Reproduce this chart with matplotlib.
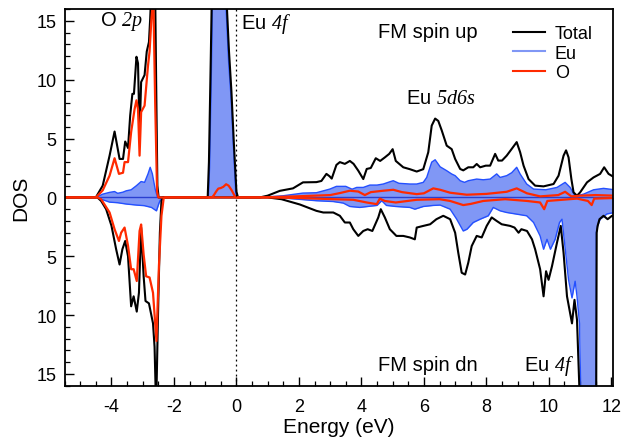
import matplotlib
matplotlib.use("Agg")
import matplotlib.pyplot as plt
from matplotlib.ticker import MultipleLocator, FuncFormatter
import numpy as np

plt.rcParams['font.family'] = ['Liberation Sans', 'DejaVu Sans']
plt.rcParams['axes.unicode_minus'] = False
# italic serif for the orbital names (2p, 4f, 5d6s)
plt.rcParams['mathtext.fontset'] = 'custom'
plt.rcParams['mathtext.it'] = 'Liberation Serif:italic'
plt.rcParams['mathtext.rm'] = 'Liberation Serif:italic'

# ---- data (energy in eV, DOS in states/eV) ----
# spin up
tot_up_e = [-5.5, -4.5, -4.28, -4.06, -3.9, -3.74, -3.63, -3.56, -3.47, -3.4, -3.33, -3.28, -3.2, -3.15, -3.1,
            -3.05, -2.94, -2.87, -2.8, -2.76, -2.7, -2.62, -2.57, -2.53, -2.49,
            -0.92, -0.88, -0.82, -0.77, -0.7, -0.55, -0.4, -0.32, -0.24, -0.16, -0.08, 0.0, 0.05,
            0.75, 1.0, 1.39, 1.81, 2.13, 2.56, 2.72, 2.88, 2.98, 3.05, 3.2, 3.31, 3.47, 3.63, 3.75, 3.9,
            4.06, 4.17, 4.3, 4.46, 4.6, 4.75, 4.89, 5.0, 5.1, 5.34, 5.55, 5.77, 5.98, 6.14, 6.25, 6.36,
            6.46, 6.57, 6.73, 6.89, 7.0, 7.16, 7.26, 7.42, 7.58, 7.69, 7.8, 7.98, 8.12, 8.28, 8.38, 8.5,
            8.65, 8.81, 8.97, 9.08, 9.19, 9.35, 9.56, 9.83, 10.15, 10.31, 10.47, 10.55, 10.63, 10.72,
            10.79, 10.9, 11.0, 11.22, 11.43, 11.64, 11.77, 11.91, 12.1]
tot_up = [0, 0, 1.0, 3.55, 5.6, 3.27, 3.27, 4.75, 4.2, 6.97, 8.8, 8.8, 11.95, 11.4, 5.3,
          9.8, 10.4, 12.4, 13.2, 15.2, 19, 22, 10, 1.0, 0,
          0, 3, 12, 20, 35, 45, 35, 17, 12.5, 9, 4.5, 0.5, 0,
          0, 0.15, 0.56, 0.77, 1.28, 1.3, 1.4, 2.0, 1.8, 1.6, 2.76, 3.0, 2.85, 3.1, 2.85, 2.27,
          1.56, 2.42, 2.5, 3.33, 3.1, 3.4, 3.7, 4.1, 3.1, 2.56, 2.4, 2.2, 2.4, 3.84, 6.1, 6.7,
          6.5, 5.7, 4.4, 4.1, 3.27, 2.42, 2.3, 2.56, 2.56, 2.84, 2.56, 2.7, 2.7, 3.7, 3.13, 3.13,
          3.55, 4.12, 4.7, 3.84, 2.7, 1.56, 1.0, 0.94, 1.14, 1.85, 3.55, 4.0, 3.4, 1.56,
          0.43, 0.14, 0.43, 1.28, 1.7, 2.0, 2.56, 2.0, 1.7]

eu_up_e = [-5.5, -4.5, -4.28, -4.06, -3.9, -3.8, -3.63, -3.53, -3.37, -3.2, -3.05, -2.94, -2.83, -2.76,
           -2.69, -2.6, -2.53, -2.5,
           -0.9, -0.86, -0.8, -0.75, -0.7, -0.55, -0.4, -0.33, -0.25, -0.17, -0.09, -0.02, 0.02,
           0.75, 1.49, 2.13, 2.56, 2.99, 3.2, 3.5, 3.7, 3.85, 4.06, 4.27, 4.5, 4.7, 4.91, 5.02, 5.2,
           5.55, 5.77, 5.98, 6.09, 6.25, 6.36, 6.52, 6.73, 6.89, 7.0, 7.16, 7.3, 7.42, 7.69, 7.9,
           8.12, 8.33, 8.44, 8.65, 8.81, 8.97, 9.08, 9.29, 9.51, 9.9, 10.26, 10.52, 10.68, 10.84,
           11.11, 11.43, 11.75, 12.1]
eu_up = [0, 0, 0.28, 0.43, 0.5, 0.35, 0.45, 0.56, 0.65, 1.0, 1.35, 1.28, 2.0, 2.56,
         2.0, 0.7, 0.05, 0,
         0, 2.5, 11, 20, 35, 45, 35, 16, 11.5, 8.4, 4, 0.3, 0,
         0, 0.14, 0.37, 0.4, 0.71, 0.94, 0.94, 0.7, 0.85, 0.85, 1.05, 1.05, 1.14, 1.33, 1.42, 1.2,
         1.14, 1.14, 1.28, 1.7, 3.0, 3.2, 2.6, 2.27, 1.99, 1.85, 1.42, 1.28, 1.42, 1.56, 1.5,
         1.56, 2.0, 1.7, 1.85, 2.1, 2.56, 1.99, 1.14, 0.71, 0.65, 0.85, 1.28, 0.85, 0.1,
         0.28, 0.65, 0.77, 0.65]

o_up_e = [-5.5, -4.5, -4.28, -4.06, -3.9, -3.76, -3.63, -3.58, -3.47, -3.37, -3.26, -3.2, -3.15, -3.1,
          -3.05, -2.94, -2.83, -2.78, -2.72, -2.66, -2.6, -2.54, -2.5,
          -0.78, -0.72, -0.65, -0.58, -0.5, -0.42, -0.33, -0.25, -0.15, -0.05, 0.0,
          0.75, 2.0, 3.0, 3.31, 3.63, 3.9, 4.11, 4.3, 4.7, 5.02, 5.3, 5.77, 6.0, 6.3, 6.52, 6.84,
          7.37, 8.0, 8.65, 8.97, 9.3, 9.72, 10.3, 10.52, 10.72, 11.0, 11.5, 12.1]
o_up = [0, 0, 0.6, 1.85, 3.33, 2.0, 2.1, 3.0, 3.0, 5.55, 7.5, 8.25, 7.5, 3.55,
        7.25, 7.8, 11.2, 12.4, 15.2, 17, 8, 0.5, 0,
        0, 0.2, 0.5, 0.75, 0.8, 0.9, 1.12, 1.0, 0.6, 0.1, 0,
        0, 0.1, 0.2, 0.37, 0.57, 0.5, 0.2, 0.45, 0.57, 0.65, 0.45, 0.28, 0.35, 0.77, 0.65, 0.4,
        0.23, 0.3, 0.48, 0.77, 0.35, 0.09, 0.2, 0.48, 0.09, 0.15, 0.2, 0.15]

# spin down (magnitudes, drawn below zero)
tot_dn_e = [-5.5, -4.45, -4.33, -4.17, -4.0, -3.85, -3.74, -3.65, -3.56, -3.47, -3.37, -3.29, -3.19,
            -3.12, -3.05, -2.97, -2.91, -2.8, -2.67, -2.62, -2.57, -2.51, -2.45, -2.4, -2.35,
            1.0, 1.44, 2.03, 2.56, 2.78, 3.1, 3.31, 3.47, 3.63, 3.74, 3.9, 4.06, 4.2, 4.35, 4.54,
            4.62, 4.75, 4.91, 5.12, 5.34, 5.55, 5.71, 5.77, 5.98, 6.2, 6.4, 6.62, 6.84, 7.0, 7.1,
            7.21, 7.32, 7.42, 7.53, 7.69, 7.85, 8.01, 8.17, 8.33, 8.49, 8.76, 8.9, 9.03, 9.12, 9.3,
            9.46, 9.56, 9.72, 9.83, 9.91, 9.99, 10.1, 10.26, 10.38, 10.47, 10.58, 10.74, 10.82,
            10.9, 10.98, 11.05, 11.5, 11.53, 11.56, 11.62, 11.75, 11.88, 12.02, 12.1]
tot_dn = [0, 0, 0.3, 1.0, 2.4, 4.4, 5.7, 4.4, 3.7, 5.0, 9.25, 8.4, 9.7,
          8.1, 2.56, 6.7, 8.8, 9.0, 10.7, 12.7, 18, 10, 3, 0.3, 0,
          0, 0.15, 0.6, 1.14, 1.28, 1.28, 1.56, 2.13, 2.13, 2.7, 3.27, 2.85, 2.7, 2.85, 1.7,
          1.0, 1.7, 2.7, 3.27, 3.27, 3.4, 3.56, 2.56, 2.42, 2.28, 1.85, 1.56, 1.85, 3.0, 4.7,
          6.4, 6.55, 5.55, 4.13, 3.27, 3.4, 2.42, 1.7, 2.0, 2.28, 2.42, 2.56, 3.0, 2.7, 2.85,
          3.56, 4.4, 6.1, 8.4, 6.27, 7.0, 5.84, 3.84, 2.42, 4.7, 8.4, 10.7, 8.7,
          10.4, 16.5, 30, 30, 3.0, 2.42, 1.85, 1.56, 1.85, 1.56, 1.6]

eu_dn_e = [-5.5, -4.45, -4.33, -4.06, -3.8, -3.53, -3.2, -2.95, -2.72, -2.56, -2.48, -2.4,
           1.0, 1.5, 2.56, 3.1, 3.42, 3.63, 3.95, 4.2, 4.5, 4.65, 4.8, 5.1, 5.55, 5.71, 5.98, 6.3,
           6.52, 6.84, 7.05, 7.26, 7.38, 7.58, 7.8, 8.06, 8.22, 8.44, 8.65, 8.97, 9.29, 9.51, 9.72,
           9.83, 9.94, 10.05, 10.2, 10.34, 10.42, 10.49, 10.63, 10.74, 10.84, 10.9, 10.98, 11.02,
           11.1, 11.5, 11.52, 11.56, 11.64, 11.86, 12.1]
eu_dn = [0, 0, 0.15, 0.4, 0.45, 0.56, 0.65, 0.7, 0.85, 1.14, 0.5, 0,
         0, 0.05, 0.28, 0.35, 0.48, 0.77, 0.85, 0.77, 0.68, 0.28, 0.68, 0.77, 0.85, 1.0, 0.77, 0.68,
         0.65, 1.0, 1.85, 2.85, 2.7, 2.13, 1.85, 1.56, 0.85, 1.14, 1.28, 1.42, 1.56, 2.13, 3.27,
         4.4, 3.56, 4.4, 3.56, 2.13, 1.85, 3.56, 7.0, 8.54, 7.12, 8.4, 10.7, 16.5,
         30, 30, 3.0, 2.42, 1.85, 1.4, 1.28]

o_dn_e = [-5.5, -4.45, -4.33, -4.06, -3.9, -3.76, -3.69, -3.58, -3.47, -3.37, -3.29, -3.19, -3.1,
          -3.05, -2.97, -2.89, -2.78, -2.67, -2.56, -2.48, -2.4, -2.33, -2.3,
          1.0, 2.0, 3.1, 3.74, 4.17, 4.49, 4.59, 4.75, 5.1, 5.77, 6.5, 6.84, 7.26, 7.5, 7.9, 8.6,
          9.3, 9.72, 9.85, 9.95, 10.9, 11.25, 11.37, 11.45, 12.1]
o_dn = [0, 0, 0.15, 1.28, 2.7, 3.7, 3.0, 2.56, 4.1, 6.1, 6.1, 7.1, 2.85,
        2.3, 4.85, 6.7, 6.8, 8.1, 12.2, 5.8, 1.57, 0.1, 0,
        0, 0.05, 0.15, 0.2, 0.43, 0.57, 0.1, 0.3, 0.43, 0.2, 0.15, 0.3, 0.65, 0.55, 0.3, 0.15,
        0.3, 0.43, 1.0, 0.3, 0.1, 0.3, 0.65, 0.1, 0.05]

yticks = [-15, -10, -5, 0, 5, 10, 15]

# colours
c_fill = '#8097f5'
c_edge = '#2450ff'
c_red = '#ff2a00'

fig = plt.figure(figsize=(6.21, 4.39), dpi=100)
ax = fig.add_axes([0.104, 0.119, 0.883, 0.858])

# Eu filled (up and down)
ax.fill_between(eu_up_e, eu_up, 0, color=c_fill, lw=0)
ax.fill_between(eu_dn_e, -np.array(eu_dn), 0, color=c_fill, lw=0)
ax.plot(eu_up_e, eu_up, color=c_edge, lw=1.0)
ax.plot(eu_dn_e, -np.array(eu_dn), color=c_edge, lw=1.0)
ax.axhline(0, color='#2a3fd0', lw=1.0)

# total
ax.plot(tot_up_e, tot_up, color='black', lw=1.5)
ax.plot(tot_dn_e, -np.array(tot_dn), color='black', lw=1.5)

# O
ax.plot(o_up_e, o_up, color=c_red, lw=1.6)
ax.plot(o_dn_e, -np.array(o_dn), color=c_red, lw=1.6)

# Fermi level
ax.axvline(0, color='black', lw=0.9, ls=(0, (1.5, 2.5)))

ax.set_xlim(-5.5, 12.05)
ax.set_ylim(-16, 16)
ax.set_yticks(yticks)
ax.yaxis.set_major_formatter(FuncFormatter(lambda v, p: "%d" % abs(v)))
ax.xaxis.set_major_locator(MultipleLocator(2))
ax.xaxis.set_minor_locator(MultipleLocator(0.5))
ax.yaxis.set_minor_locator(MultipleLocator(1))
ax.tick_params(which='both', direction='in', top=False, right=False, labelsize=13, width=1.0)
ax.tick_params(which='major', length=6.5)
ax.tick_params(which='minor', length=3.4, width=0.9)
ax.tick_params(axis='x', pad=9)
ax.tick_params(axis='y', pad=6)
for s in ax.spines.values():
    s.set_linewidth(1.3)

ax.set_xlabel("Energy (eV)", fontsize=15, labelpad=1)
ax.set_ylabel("DOS", fontsize=15)
ax.yaxis.set_label_coords(-0.063, 0.5)

# labels in the plot
ax.text(-4.36, 15.0, "O $2p$", fontsize=14.5, va='center')
ax.text(0.14, 14.8, "Eu $4f$", fontsize=14.5, va='center')
ax.text(4.54, 14.1, "FM spin up", fontsize=14.5, va='center')
ax.text(5.43, 8.45, "Eu $5d6s$", fontsize=14.5, va='center')
ax.text(4.54, -14.2, "FM spin dn", fontsize=14.5, va='center')
ax.text(9.19, -14.2, "Eu $4f$", fontsize=14.5, va='center')

# legend
h1, = ax.plot([], [], color='black', lw=1.5, label='Total')
h2, = ax.plot([], [], color=c_fill, lw=1.5, label='Eu')
h3, = ax.plot([], [], color=c_red, lw=1.5, label='O')
ax.legend(handles=[h1, h2, h3], loc='upper left', bbox_to_anchor=(513 / 621, 1 - 26 / 439),
          bbox_transform=fig.transFigure, frameon=False, fontsize=13, handlelength=1.77,
          labelspacing=0.15, handletextpad=0.55, borderpad=0, borderaxespad=0)

fig.savefig("out.png", dpi=100)
